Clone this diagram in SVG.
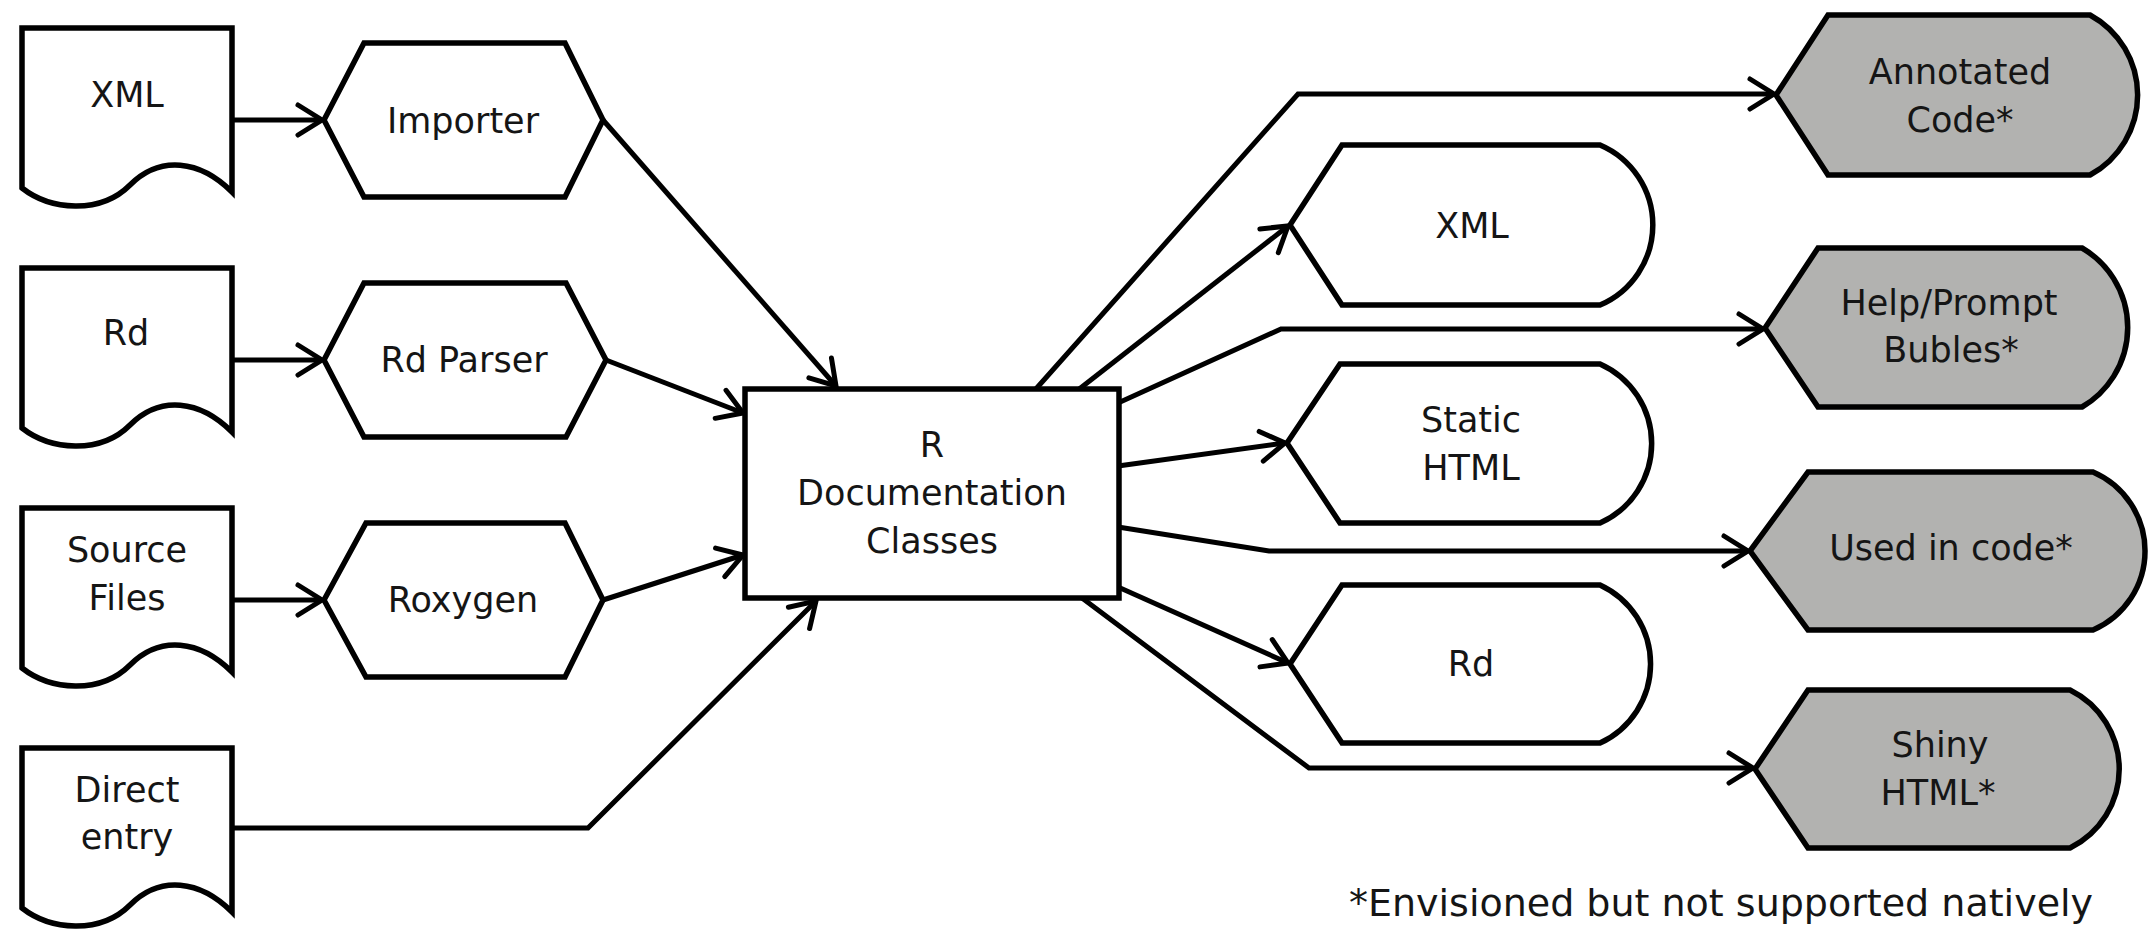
<svg xmlns="http://www.w3.org/2000/svg" width="2149" height="929" viewBox="0 0 2149 929">
<style>
.shape{fill:#fff;stroke:#000;stroke-width:5.5;stroke-linejoin:miter}
.gray{fill:#b2b2b0}
.lbl{font-family:"DejaVu Sans",Verdana,sans-serif;font-size:35px;fill:#151515;text-anchor:middle}
.note{font-size:38px}
.conn{fill:none;stroke:#000;stroke-width:5;marker-end:url(#arr)}
</style>
<defs>
<marker id="arr" markerUnits="userSpaceOnUse" viewBox="-30 -20 34 40" markerWidth="34" markerHeight="40" refX="0" refY="0" orient="auto" overflow="visible">
<path d="M-24,-15 L0,0 L-24,15" fill="none" stroke="#000" stroke-width="5" stroke-linecap="round" stroke-linejoin="miter"/>
</marker>
<path id="doc" d="M22,28 L232,28 L232,192 C200,160 160,155 130,185 C100,215 50,210 22,188 Z"/>
</defs>
<rect width="2149" height="929" fill="#fff"/>

<g id="connectors">
<path class="conn" d="M232,120 H322"/>
<path class="conn" d="M232,360 H322"/>
<path class="conn" d="M232,600 H322"/>
<path class="conn" d="M603,120 L836,386"/>
<path class="conn" d="M606,360 L743,413"/>
<path class="conn" d="M603,600 L743,555"/>
<path class="conn" d="M230,828 H588 L816,601"/>
<path class="conn" d="M1035,390 L1298,94 H1774"/>
<path class="conn" d="M1078,390 L1288,226"/>
<path class="conn" d="M1118,403 L1281,329 H1763"/>
<path class="conn" d="M1118,466 L1285,443"/>
<path class="conn" d="M1118,527 L1269,551 H1748"/>
<path class="conn" d="M1118,587 L1288,663"/>
<path class="conn" d="M1082,598 L1309,768 H1753"/>
</g>

<g id="doc-xml">
<use href="#doc" class="shape"/>
<text class="lbl" x="127" y="107">XML</text>
</g>
<g id="doc-rd">
<use href="#doc" class="shape" transform="translate(0,240)"/>
<text class="lbl" x="126" y="345">Rd</text>
</g>
<g id="doc-source">
<use href="#doc" class="shape" transform="translate(0,480)"/>
<text class="lbl" x="127" y="562">Source</text>
<text class="lbl" x="127" y="610">Files</text>
</g>
<g id="doc-direct">
<use href="#doc" class="shape" transform="translate(0,720)"/>
<text class="lbl" x="127" y="802">Direct</text>
<text class="lbl" x="127" y="849">entry</text>
</g>

<g id="importer">
<polygon class="shape" points="324,120 364,43 565,43 603,120 565,197 364,197"/>
<text class="lbl" x="463" y="133">Importer</text>
</g>
<g id="rdparser">
<polygon class="shape" points="324,360 364,283 566,283 606,360 566,437 364,437"/>
<text class="lbl" x="464" y="372">Rd Parser</text>
</g>
<g id="roxygen">
<polygon class="shape" points="324,600 366,523 565,523 603,600 565,677 366,677"/>
<text class="lbl" x="463" y="612">Roxygen</text>
</g>

<g id="rdoc">
<rect class="shape" x="745" y="389" width="374" height="209"/>
<text class="lbl" x="932" y="457">R</text>
<text class="lbl" x="932" y="505">Documentation</text>
<text class="lbl" x="932" y="553">Classes</text>
</g>

<g id="out-xml">
<path class="shape" d="M1290,225 L1342,145 L1600,145 A87,87 0 0 1 1600,305 L1342,305 Z"/>
<text class="lbl" x="1472" y="238">XML</text>
</g>
<g id="out-static">
<path class="shape" d="M1287,443 L1340,364 L1600,364 A87,87 0 0 1 1600,523 L1340,523 Z"/>
<text class="lbl" x="1471" y="432">Static</text>
<text class="lbl" x="1471" y="480">HTML</text>
</g>
<g id="out-rd">
<path class="shape" d="M1290,664 L1342,585 L1600,585 A87,87 0 0 1 1600,743 L1342,743 Z"/>
<text class="lbl" x="1471" y="676">Rd</text>
</g>

<g id="annotated">
<path class="shape gray" d="M1776,95 L1828,15 L2090,15 A91,91 0 0 1 2090,175 L1828,175 Z"/>
<text class="lbl" x="1960" y="84">Annotated</text>
<text class="lbl" x="1960" y="132">Code*</text>
</g>
<g id="helpprompt">
<path class="shape gray" d="M1765,328 L1818,248 L2082,248 A92,92 0 0 1 2082,407 L1818,407 Z"/>
<text class="lbl" x="1949" y="315">Help/Prompt</text>
<text class="lbl" x="1951" y="362">Bubles*</text>
</g>
<g id="usedincode">
<path class="shape gray" d="M1750,551 L1808,472 L2093,472 A86,86 0 0 1 2093,630 L1808,630 Z"/>
<text class="lbl" x="1951" y="560">Used in code*</text>
</g>
<g id="shiny">
<path class="shape gray" d="M1755,769 L1808,690 L2070,690 A88,88 0 0 1 2070,848 L1808,848 Z"/>
<text class="lbl" x="1940" y="757">Shiny</text>
<text class="lbl" x="1938" y="805">HTML*</text>
</g>

<text class="lbl note" x="1721" y="916">*Envisioned but not supported natively</text>
</svg>
